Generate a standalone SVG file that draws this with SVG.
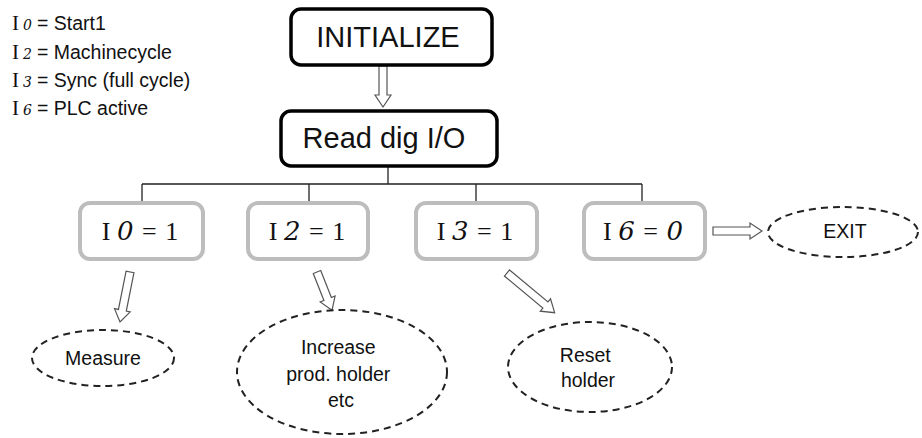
<svg xmlns="http://www.w3.org/2000/svg" width="922" height="438" viewBox="0 0 922 438">
  <style>
    .sans { font-family: "Liberation Sans", Arial, sans-serif; fill: #111; }
    .serif { font-family: "Liberation Serif", "DejaVu Serif", serif; fill: #111; }
    .dig { font-family: "DejaVu Serif", "Liberation Serif", serif; font-style: italic; }
    .main { fill: #fff; stroke: #000; stroke-width: 3.5; }
    .cond { fill: #fff; stroke: #bdbdbd; stroke-width: 4; }
    .oval { fill: #fff; stroke: #222; stroke-width: 2; stroke-dasharray: 7 5; }
    .tree { fill: none; stroke: #222; stroke-width: 1.3; }
    .harrow { fill: #fff; stroke: #555; stroke-width: 1.2; }
  </style>

  <!-- input legend -->
  <g id="legend" font-size="19.5">
    <text x="12" y="30"><tspan class="serif" font-size="21">I</tspan><tspan class="serif dig" font-size="14" dx="4">0</tspan><tspan class="sans" dx="5">= Start1</tspan></text>
    <text x="12" y="59"><tspan class="serif" font-size="21">I</tspan><tspan class="serif dig" font-size="14" dx="4">2</tspan><tspan class="sans" dx="5">= Machinecycle</tspan></text>
    <text x="12" y="87"><tspan class="serif" font-size="21">I</tspan><tspan class="serif dig" font-size="14" dx="4">3</tspan><tspan class="sans" dx="5">= Sync (full cycle)</tspan></text>
    <text x="12" y="115"><tspan class="serif" font-size="21">I</tspan><tspan class="serif dig" font-size="14" dx="4">6</tspan><tspan class="sans" dx="5">= PLC active</tspan></text>
  </g>

  <g id="connectors">
    <!-- branch tree from Read dig I/O -->
    <path class="tree" d="M388 166 V184 M142 184 H642 M142 184 V201 M309 184 V201 M476 184 V201 M642 184 V201"/>
    <!-- hollow block arrows -->
    <path class="harrow" transform="translate(383 66) rotate(90)" d="M0 -4 H29 V-8 L41 0 L29 8 V4 H0 Z"/>
    <path class="harrow" transform="translate(713 231) rotate(0)" d="M0 -4 H37 V-8 L49 0 L37 8 V4 H0 Z"/>
    <path class="harrow" transform="translate(130 272) rotate(101.3)" d="M0 -4 H39 V-8 L51 0 L39 8 V4 H0 Z"/>
    <path class="harrow" transform="translate(317 272) rotate(68.5)" d="M0 -4 H29 V-8 L41 0 L29 8 V4 H0 Z"/>
    <path class="harrow" transform="translate(507 273) rotate(39.8)" d="M0 -4 H50 V-8 L62 0 L50 8 V4 H0 Z"/>
  </g>

  <g id="initialize">
    <rect class="main" x="291" y="9" width="201" height="56" rx="10"/>
    <text class="sans" x="388" y="47" font-size="29" text-anchor="middle">INITIALIZE</text>
  </g>

  <g id="read-dig-io">
    <rect class="main" x="281" y="111" width="216" height="55" rx="10"/>
    <text class="sans" x="384" y="148" font-size="29" text-anchor="middle">Read dig I/O</text>
  </g>

  <g id="cond-i0">
    <rect class="cond" x="80" y="203" width="123" height="56" rx="10"/>
    <text class="serif" x="140" y="240" font-size="26" text-anchor="middle">I <tspan class="dig">0</tspan> <tspan dx="2">=</tspan> <tspan dx="2">1</tspan></text>
  </g>
  <g id="cond-i2">
    <rect class="cond" x="248" y="203" width="120" height="56" rx="10"/>
    <text class="serif" x="307" y="240" font-size="26" text-anchor="middle">I <tspan class="dig">2</tspan> <tspan dx="2">=</tspan> <tspan dx="2">1</tspan></text>
  </g>
  <g id="cond-i3">
    <rect class="cond" x="416" y="203" width="121" height="56" rx="10"/>
    <text class="serif" x="475" y="240" font-size="26" text-anchor="middle">I <tspan class="dig">3</tspan> <tspan dx="2">=</tspan> <tspan dx="2">1</tspan></text>
  </g>
  <g id="cond-i6">
    <rect class="cond" x="584" y="203" width="121" height="56" rx="10"/>
    <text class="serif" x="643" y="240" font-size="26" text-anchor="middle">I <tspan class="dig">6</tspan> <tspan dx="2">=</tspan> <tspan class="dig" dx="2">0</tspan></text>
  </g>

  <g id="exit">
    <ellipse class="oval" cx="843" cy="232" rx="75" ry="25"/>
    <text class="sans" x="845" y="238" font-size="19.5" text-anchor="middle">EXIT</text>
  </g>

  <g id="measure">
    <ellipse class="oval" cx="103" cy="358" rx="71" ry="28"/>
    <text class="sans" x="103" y="365" font-size="19.5" text-anchor="middle">Measure</text>
  </g>

  <g id="increase">
    <ellipse class="oval" cx="342" cy="372" rx="105" ry="62"/>
    <text class="sans" font-size="19.5" text-anchor="middle">
      <tspan x="341" y="354">Increase</tspan>
      <tspan x="341" y="381">prod. holder</tspan>
      <tspan x="341" y="407">etc</tspan>
    </text>
  </g>

  <g id="reset">
    <ellipse class="oval" cx="590" cy="367" rx="82" ry="45"/>
    <text class="sans" font-size="19.5" text-anchor="middle">
      <tspan x="588" y="362">Reset</tspan>
      <tspan x="588" y="387">holder</tspan>
    </text>
  </g>
</svg>
